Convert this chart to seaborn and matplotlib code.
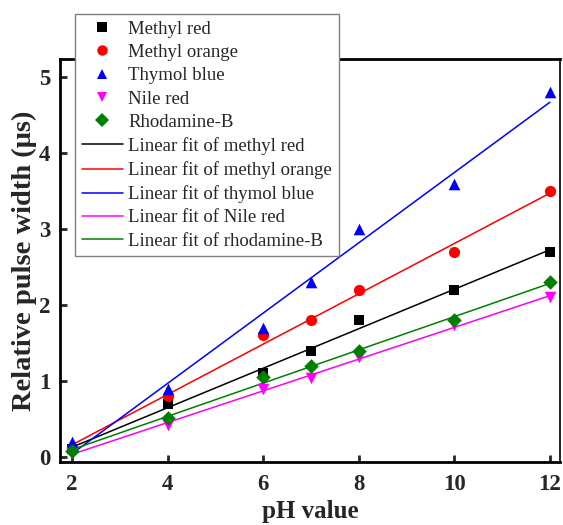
import numpy as np
import pandas as pd
import matplotlib
matplotlib.use("Agg")
import matplotlib.pyplot as plt
import seaborn as sns
from matplotlib.lines import Line2D

ph = [2, 4, 6, 7, 8, 10, 12]
methyl_red = [0.10, 0.70, 1.10, 1.40, 1.80, 2.20, 2.70]
methyl_orange = [0.12, 0.80, 1.60, 1.80, 2.20, 2.70, 3.50]
thymol_blue = [0.20, 0.90, 1.70, 2.30, 3.00, 3.60, 4.80]
nile_red = [0.05, 0.42, 0.90, 1.04, 1.31, 1.74, 2.10]
rhodamine_b = [0.08, 0.51, 1.05, 1.20, 1.40, 1.80, 2.30]

names = ["Methyl red", "Methyl orange", "Thymol blue", "Nile red", "Rhodamine-B"]
fit_names = ["Linear fit of methyl red", "Linear fit of methyl orange",
             "Linear fit of thymol blue", "Linear fit of Nile red",
             "Linear fit of rhodamine-B"]
series = [methyl_red, methyl_orange, thymol_blue, nile_red, rhodamine_b]
colors = ["black", "red", "blue", "magenta", "green"]
markers = ["s", "o", "^", "v", "D"]
msizes = [55, 65, 70, 70, 55]

sns.set_style("ticks")
plt.rcParams["font.family"] = ["Liberation Serif", "DejaVu Serif"]
plt.rcParams["mathtext.fontset"] = "stix"

fig = plt.figure(figsize=(5.63, 5.25), dpi=100)
ax = fig.add_axes([60/563, 1-462/525, 500/563, (462-59)/525])

xs = np.array(ph, dtype=float)
for name, ys, c, m, s in zip(names, series, colors, markers, msizes):
    df = pd.DataFrame({"pH": ph, "w": ys})
    sns.scatterplot(data=df, x="pH", y="w", color=c, marker=m, s=s,
                    edgecolor=c, linewidth=0, ax=ax, zorder=3)

for ys, c in zip(series, colors):
    k, b = np.polyfit(xs, np.array(ys), 1)
    fx = np.array([2.0, 12.0])
    dff = pd.DataFrame({"pH": fx, "w": k*fx + b})
    sns.lineplot(data=dff, x="pH", y="w", color=c, linewidth=1.1, ax=ax, zorder=2)

ax.set_xlim(1.75, 12.21)
ax.set_ylim(-0.066, 5.24)
ax.set_xticks([2, 4, 6, 8, 10, 12])
ax.set_yticks([0, 1, 2, 3, 4, 5])
ax.tick_params(direction="in", length=5, width=2, labelsize=16.5)
ax.tick_params(axis="x", pad=9)
ax.tick_params(axis="y", pad=7)
for lab in ax.get_xticklabels() + ax.get_yticklabels():
    lab.set_fontweight("bold")
for sp in ax.spines.values():
    sp.set_linewidth(2)
    sp.set_color("black")
ax.spines["right"].set_linewidth(1.2)
ax.set_xlabel("pH value", fontsize=18, fontweight="bold", labelpad=3)
ax.set_ylabel("Relative pulse width (μs)", fontsize=20.5, fontweight="bold", labelpad=1)

handles = []
for name, c, m in zip(names, colors, markers):
    handles.append(Line2D([], [], linestyle="none", marker=m, color=c,
                          markersize=7.5, markeredgewidth=0))
for c in colors:
    handles.append(Line2D([], [], color=c, linewidth=1.1))
labels = names + fit_names
leg = fig.legend(handles, labels, loc="upper left",
                 bbox_to_anchor=(75/563, 1-14/525), fontsize=13.5,
                 frameon=True, fancybox=False, edgecolor="#808080",
                 framealpha=1, labelspacing=0.33, handlelength=2.2,
                 handletextpad=0.3, borderpad=0.35, borderaxespad=0)
leg.get_frame().set_linewidth(1.0)

fig.savefig("out.png", dpi=100)
